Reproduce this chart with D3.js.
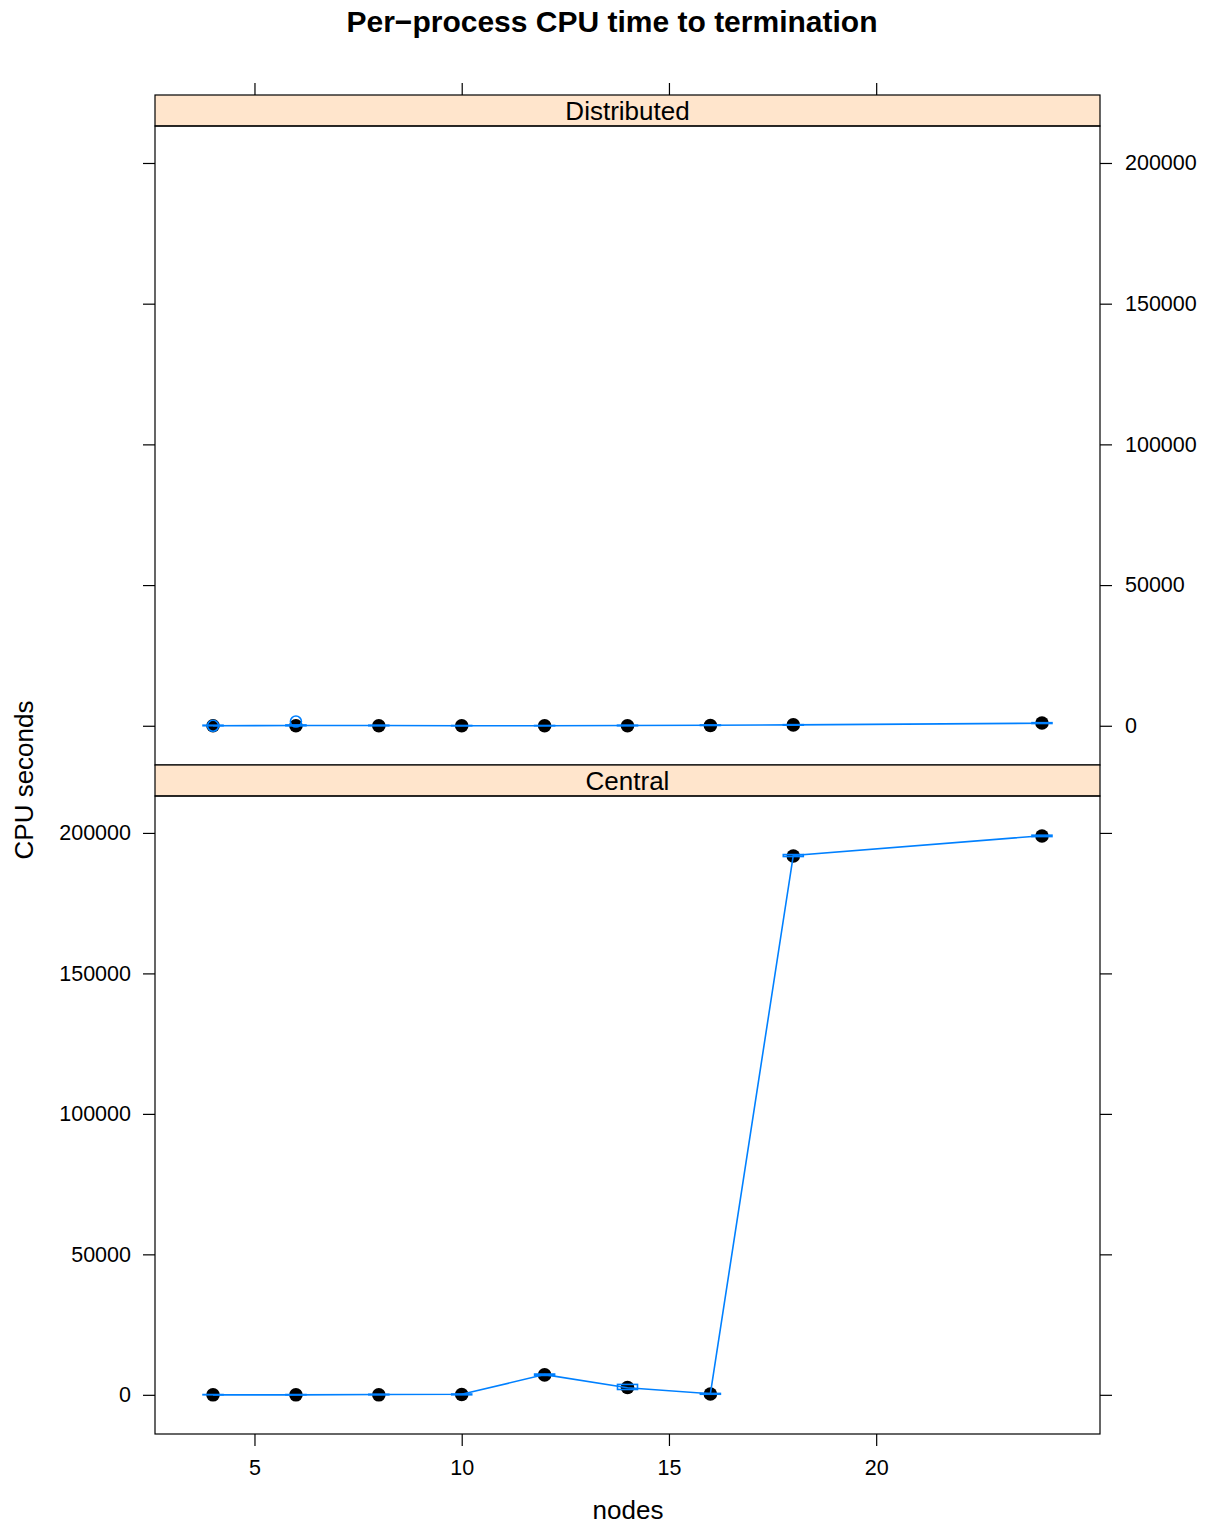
<!DOCTYPE html>
<html>
<head>
<meta charset="utf-8">
<script src="https://cdn.jsdelivr.net/npm/d3@7"></script>
<style>
  html, body { margin: 0; padding: 0; background: #fff; }
  svg { display: block; font-family: "Liberation Sans", Arial, Helvetica, sans-serif; }
</style>
</head>
<body>
<svg id="chart" width="1206" height="1526"></svg>
<script>
// Per-process CPU time, one panel per termination scheme
const nodes = [4, 6, 8, 10, 12, 14, 16, 18, 24];
const panels = ["Distributed", "Central"];

// median CPU seconds per node count
const distributedMedian = [0, 0, 0, 0, 0, 0, 100, 300, 1000];
const centralMedian     = [0, 0, 0, 100, 7100, 2600, 300, 191800, 198900];

// mean CPU seconds (line) per node count
const distributedMean = [0, 100, 100, 0, 0, 100, 200, 300, 900];
const centralMean     = [0, 0, 100, 200, 7200, 2500, 400, 192000, 199000];

// lower / upper range of the observations
const distributedLow  = [0, 0, 0, 0, 0, 0, 100, 200, 800];
const distributedHigh = [200, 300, 200, 100, 100, 200, 300, 400, 1100];
const centralLow      = [0, 0, 0, 0, 6900, 1900, 200, 191600, 198700];
const centralHigh     = [100, 100, 200, 300, 7400, 3700, 500, 192300, 199200];

// extreme single runs
const distributedOutX = [4, 6];
const distributedOutY = [0, 1500];

const xTicks = [5, 10, 15, 20];
const yTicks = [0, 50000, 100000, 150000, 200000];

const series = {
  Distributed: { med: distributedMedian, mean: distributedMean, lo: distributedLow, hi: distributedHigh, outX: distributedOutX, outY: distributedOutY },
  Central:     { med: centralMedian, mean: centralMean, lo: centralLow, hi: centralHigh, outX: [], outY: [] }
};

const svg = d3.select("#chart");
const blue = "#0080ff";
const tickFont = 21.5;

const left = 155, right = 1100;
const stripH = 31;
const panelTop = [95, 765];      // strip top for each panel
const panelBottom = [765, 1434]; // panel bottom for each panel

// x scale, padded like lattice (7% of data range)
const xExt = d3.extent(nodes);
const xPad = (xExt[1] - xExt[0]) * 0.07;
const x = d3.scaleLinear().domain([xExt[0] - xPad, xExt[1] + xPad]).range([left, right]);

// shared y domain across panels
const allY = [].concat(distributedLow, distributedHigh, centralLow, centralHigh, distributedOutY);
const yExt = d3.extent(allY);
const yPad = (yExt[1] - yExt[0]) * 0.07;
const yDomain = [yExt[0] - yPad, yExt[1] + yPad];

svg.append("text")
  .attr("x", 612).attr("y", 32)
  .attr("text-anchor", "middle")
  .attr("font-size", 30).attr("font-weight", "bold")
  .text("Per\u2212process CPU time to termination");

panels.forEach((name, i) => {
  const s = series[name];
  const stripTop = panelTop[i];
  const pTop = stripTop + stripH;
  const pBot = panelBottom[i];
  const y = d3.scaleLinear().domain(yDomain).range([pBot, pTop]);

  const g = svg.append("g");

  // strip
  g.append("rect")
    .attr("x", left).attr("y", stripTop)
    .attr("width", right - left).attr("height", stripH)
    .attr("fill", "#ffe5cc").attr("stroke", "#000").attr("stroke-width", 1.2);
  g.append("text")
    .attr("x", (left + right) / 2).attr("y", stripTop + 25)
    .attr("text-anchor", "middle").attr("font-size", 26)
    .text(name);

  // panel border
  g.append("rect")
    .attr("x", left).attr("y", pTop)
    .attr("width", right - left).attr("height", pBot - pTop)
    .attr("fill", "none").attr("stroke", "#000").attr("stroke-width", 1.2);

  // y axes: labels on the right for the top panel, on the left for the bottom one
  const yLeft = i === 0
    ? d3.axisLeft(y).tickValues(yTicks).tickSize(12).tickFormat("")
    : d3.axisLeft(y).tickValues(yTicks).tickSize(12).tickPadding(12).tickFormat(d3.format("d"));
  const yRight = i === 0
    ? d3.axisRight(y).tickValues(yTicks).tickSize(12).tickPadding(13).tickFormat(d3.format("d"))
    : d3.axisRight(y).tickValues(yTicks).tickSize(12).tickFormat("");
  [g.append("g").attr("transform", `translate(${left},0)`).call(yLeft),
   g.append("g").attr("transform", `translate(${right},0)`).call(yRight)].forEach(ax => {
    ax.select(".domain").remove();
    ax.selectAll("line").attr("stroke", "#000").attr("stroke-width", 1.2);
    ax.selectAll("text").attr("font-size", tickFont).attr("fill", "#000").attr("font-family", "Liberation Sans, Arial, sans-serif");
  });

  // x axis ticks on top of the upper strip, labelled axis under the lower panel
  if (i === 0) {
    const ax = g.append("g").attr("transform", `translate(0,${stripTop})`)
      .call(d3.axisTop(x).tickValues(xTicks).tickSize(12).tickFormat(""));
    ax.select(".domain").remove();
    ax.selectAll("line").attr("stroke", "#000").attr("stroke-width", 1.2);
  } else {
    const ax = g.append("g").attr("transform", `translate(0,${pBot})`)
      .call(d3.axisBottom(x).tickValues(xTicks).tickSize(12).tickPadding(14).tickFormat(d3.format("d")));
    ax.select(".domain").remove();
    ax.selectAll("line").attr("stroke", "#000").attr("stroke-width", 1.2);
    ax.selectAll("text").attr("font-size", tickFont).attr("fill", "#000").attr("font-family", "Liberation Sans, Arial, sans-serif");
  }

  const plot = g.append("g");

  // median points
  plot.selectAll("circle.med").data(nodes).join("circle")
    .attr("class", "med")
    .attr("cx", d => x(d)).attr("cy", (d, k) => y(s.med[k]))
    .attr("r", 6.8).attr("fill", "#000");

  // mean line
  plot.append("path")
    .datum(nodes)
    .attr("fill", "none").attr("stroke", blue).attr("stroke-width", 1.6)
    .attr("d", d3.line().x(d => x(d)).y((d, k) => y(s.mean[k])));

  // range boxes
  plot.selectAll("rect.rng").data(nodes).join("rect")
    .attr("class", "rng")
    .attr("x", d => x(d) - 10)
    .attr("y", (d, k) => y(s.hi[k]))
    .attr("width", 20)
    .attr("height", (d, k) => Math.max(0, y(s.lo[k]) - y(s.hi[k])))
    .attr("fill", "none").attr("stroke", blue).attr("stroke-width", 1.6);

  // extreme runs
  plot.selectAll("circle.out").data(s.outX).join("circle")
    .attr("class", "out")
    .attr("cx", d => x(d)).attr("cy", (d, k) => y(s.outY[k]))
    .attr("r", 5.5).attr("fill", "none").attr("stroke", blue).attr("stroke-width", 1.6);
});

// axis titles
svg.append("text")
  .attr("transform", "translate(33,780) rotate(-90)")
  .attr("text-anchor", "middle").attr("font-size", 26)
  .text("CPU seconds");
svg.append("text")
  .attr("x", 628).attr("y", 1519)
  .attr("text-anchor", "middle").attr("font-size", 26)
  .text("nodes");
</script>
</body>
</html>
